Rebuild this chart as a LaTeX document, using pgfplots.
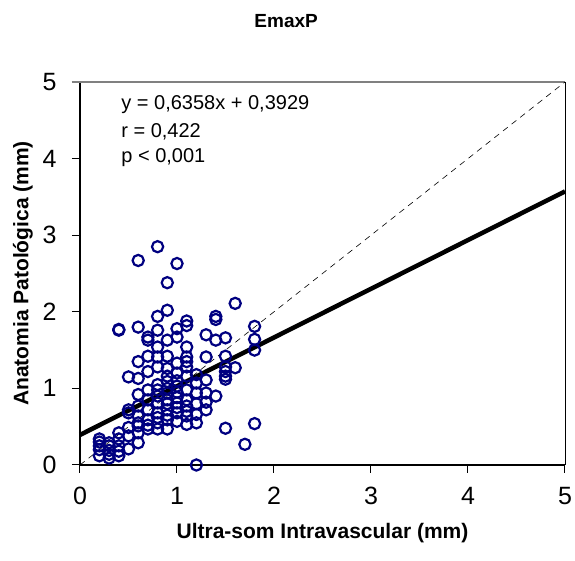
\documentclass[border=0pt]{standalone}
\usepackage{pgfplots}
\pgfplotsset{compat=1.18}
\usepackage{fontspec}
\setmainfont{Liberation Sans}
\definecolor{navyc}{RGB}{0,0,128}
\definecolor{topgray}{RGB}{128,128,128}
\begin{document}
\begin{tikzpicture}
\begin{axis}[
  scale only axis,
  width=485pt, height=383pt,
  xmin=0, xmax=5, ymin=0, ymax=5,
  xtick={0,1,2,3,4,5}, ytick={0,1,2,3,4,5},
  xtick pos=bottom, ytick pos=left,
  tick align=outside,
  major tick length=8pt,
  tick style={black, line width=1pt},
  axis line style={draw=none},
  clip=false,
  /pgf/number format/assume math mode=true,
  ticklabel style={font=\fontsize{25}{29}\selectfont},
  xticklabel style={yshift=-11pt},
  yticklabel style={xshift=-12pt},
  xlabel={Ultra-som Intravascular (mm)},
  ylabel={Anatomia Patológica (mm)},
  xlabel style={font=\fontsize{21}{25}\selectfont\bfseries, at={(axis description cs:0.5,0)}, anchor=center, yshift=-68pt},
  ylabel style={font=\fontsize{21}{25}\selectfont\bfseries, at={([xshift=-57pt]axis description cs:0,0.5)}, anchor=center},
  title={EmaxP},
  title style={font=\fontsize{19}{23}\selectfont\bfseries, at={(axis description cs:0.425,1)}, anchor=center, yshift=55pt},
]
\draw[black, line width=1.2pt] (rel axis cs:0,1) -- (rel axis cs:0,0) -- (rel axis cs:1,0);
\draw[black, line width=0.8pt] (rel axis cs:1,0) -- (rel axis cs:1,1);
\draw[topgray, line width=2pt] ([xshift=-8pt]rel axis cs:0,1) -- ([xshift=0.4pt]rel axis cs:1,1);
\addplot[black, dashed, dash pattern=on 6pt off 5pt, line width=0.6pt] coordinates {(0,0) (5,5)};
\addplot[only marks, mark=o, mark size=5.6pt, draw=navyc, mark options={line width=2.2pt, draw=navyc, fill=none}] coordinates {
(0.8,2.85) (0.6,2.67) (1.0,2.63) (0.9,2.38) (1.6,2.11) (0.9,2.02) (0.8,1.94)
(1.4,1.94) (1.4,1.90) (1.1,1.88) (1.1,1.82) (0.4,1.77) (0.4,1.76) (0.6,1.80)
(0.8,1.76) (1.0,1.78) (1.8,1.81) (0.7,1.67) (0.7,1.63) (1.0,1.67) (1.3,1.70)
(1.4,1.63) (1.5,1.66) (1.8,1.64) (0.8,1.54) (0.9,1.63) (1.1,1.54) (1.8,1.50)
(0.6,1.35) (0.7,1.42) (0.8,1.41) (0.9,1.42) (1.1,1.41) (1.1,1.35) (1.3,1.41)
(1.5,1.42) (1.0,1.33) (0.7,1.22) (0.8,1.28) (0.9,1.26) (0.9,1.16) (1.0,1.20)
(1.1,1.28) (1.1,1.16) (1.2,1.18) (1.5,1.28) (1.5,1.22) (1.5,1.16) (1.5,1.12)
(1.6,1.27) (0.5,1.15) (0.6,1.13) (1.3,1.11) (0.8,1.05) (0.8,0.98) (0.9,1.09)
(0.9,0.94) (1.0,1.03) (1.0,0.88) (1.1,0.98) (1.1,0.85) (1.2,1.07) (1.2,0.94)
(1.3,0.94) (1.4,0.90) (0.6,0.92) (0.7,0.98) (0.7,0.85) (0.5,0.72) (0.5,0.68)
(0.6,0.77) (0.6,0.64) (0.7,0.72) (0.7,0.59) (0.8,0.81) (0.8,0.68) (0.8,0.55)
(0.8,0.47) (0.9,0.85) (0.9,0.72) (0.9,0.59) (0.9,0.47) (1.0,0.81) (1.0,0.68)
(1.0,0.57) (1.1,0.77) (1.1,0.64) (1.1,0.53) (1.2,0.66) (1.3,0.72) (1.5,0.48)
(1.8,0.54) (1.7,0.27) (1.2,0.00) (0.4,0.42) (0.4,0.34) (0.5,0.38) (0.5,0.21)
(0.6,0.42) (0.6,0.29) (0.2,0.34) (0.2,0.25) (0.2,0.12) (0.3,0.29) (0.3,0.19)
(0.3,0.09) (0.4,0.25) (0.4,0.12) (0.5,0.49) (0.6,0.51) (0.7,0.47)
(0.8,0.90) (0.9,0.80) (1.0,0.95) (1.0,0.75) (0.7,0.52) (0.6,0.55) (0.8,0.62)
(0.9,0.65) (1.1,0.70) (1.2,0.80) (1.2,0.55) (0.2,0.20) (0.3,0.25) (0.2,0.30)
(0.4,0.18) (0.3,0.14) (1.0,1.10) (0.9,1.00) (1.3,0.82)
};
\addplot[black, line width=4.5pt] coordinates {(0,0.3929) (5,3.5719)};
\node[anchor=west, font=\fontsize{20}{24}\selectfont] at (axis cs:0.39,4.70) {y = 0,6358x + 0,3929};
\node[anchor=west, font=\fontsize{20}{24}\selectfont] at (axis cs:0.39,4.355) {r = 0,422};
\node[anchor=west, font=\fontsize{20}{24}\selectfont] at (axis cs:0.39,4.01) {p < 0,001};
\end{axis}
\pgfresetboundingbox
\useasboundingbox (-80pt,-96pt) rectangle (495pt,465pt);
\end{tikzpicture}
\end{document}
